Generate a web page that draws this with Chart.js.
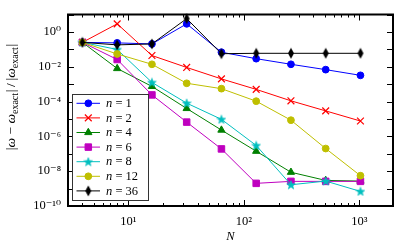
<!DOCTYPE html>
<html>
<head>
<meta charset="utf-8">
<script src="https://cdn.jsdelivr.net/npm/chart.js@4/dist/chart.umd.min.js"></script>
<style>
  html, body { margin: 0; padding: 0; background: #fff; }
  #wrap { width: 399px; height: 246px; position: relative; }
</style>
</head>
<body>
<div id="wrap"><canvas id="c" width="399" height="246"></canvas></div>
<script>
// ---- data ----
const N = [4, 8, 16, 32, 64, 128, 256, 512, 1024];
const err_n1  = [0.25, 0.234, 0.204, 2.9, 0.068, 0.029, 0.0138, 0.0068, 0.0032];
const err_n2  = [0.25, 2.9, 0.044, 0.0091, 0.002, 5.0e-4, 1.1e-4, 2.9e-5, 7.6e-6];
const err_n4  = [0.25, 7.9e-3, 7.4e-4, 4.0e-5, 2.3e-6, 1.4e-7, 8.7e-9, 2.95e-9, 2.7e-9];
const err_n6  = [0.25, 0.026, 2.4e-4, 6.6e-6, 1.9e-7, 2.0e-9, 2.6e-9, 2.6e-9, 2.6e-9];
const err_n8  = [0.25, 0.098, 1.26e-3, 8.1e-5, 9.5e-6, 3.0e-7, 1.66e-9, 2.7e-9, 6.9e-10];
const err_n12 = [0.25, 0.054, 0.0138, 1.12e-3, 5.5e-4, 1.05e-4, 8.5e-6, 2.0e-7, 5.5e-9];
const err_n36 = [0.25, 0.18, 0.204, 5.8, 0.056, 0.059, 0.059, 0.059, 0.059];
const seriesN = ['1', '2', '4', '6', '8', '12', '36'];

const xTickValues = [10, 100, 1000];
const xTickLabels = ['10\u00B9', '10\u00B2', '10\u00B3'];
const yTickValues = [1e-10, 1e-8, 1e-6, 1e-4, 1e-2, 1];
const yTickLabels = ['10\u207B\u00B9\u2070', '10\u207B\u2078', '10\u207B\u2076', '10\u207B\u2074', '10\u207B\u00B2', '10\u2070'];

// ---- marker images ----
function makeStar(color) {
  const c = document.createElement('canvas'); c.width = 10; c.height = 10;
  const g = c.getContext('2d');
  g.beginPath();
  for (let i = 0; i < 10; i++) {
    const r = i % 2 === 0 ? 4.6 : 1.9;
    const a = -Math.PI / 2 + i * Math.PI / 5;
    const px = 5 + r * Math.cos(a), py = 5.4 + r * Math.sin(a);
    if (i === 0) g.moveTo(px, py); else g.lineTo(px, py);
  }
  g.closePath(); g.fillStyle = color; g.fill();
  g.lineWidth = 0.6; g.strokeStyle = color; g.stroke();
  return c;
}
function makeDiamond(color) {
  const c = document.createElement('canvas'); c.width = 8; c.height = 12;
  const g = c.getContext('2d');
  g.beginPath();
  g.moveTo(4, 0.5); g.lineTo(7, 6); g.lineTo(4, 11.5); g.lineTo(1, 6); g.closePath();
  g.fillStyle = color; g.fill();
  return c;
}

const colors = ['#0000ff', '#ff0000', '#008000', '#bf00bf', '#00bfbf', '#bfbf00', '#000000'];
const styles = ['circle', 'crossRot', 'triangle', 'rect', makeStar('#00bfbf'), 'circle', makeDiamond('#000000')];
const radii = [3.4, 4.8, 4.2, 4.6, 5, 3.4, 5];
const seriesVals = [err_n1, err_n2, err_n4, err_n6, err_n8, err_n12, err_n36];

const datasets = seriesVals.map((vals, i) => ({
  label: 'n = ' + seriesN[i],
  data: vals.map((v, j) => ({ x: N[j], y: v })),
  borderColor: colors[i],
  backgroundColor: colors[i],
  borderWidth: 1,
  pointStyle: styles[i],
  pointRadius: radii[i],
  pointBorderWidth: i === 1 ? 1.2 : 1,
  pointBorderColor: colors[i],
  pointBackgroundColor: colors[i],
  tension: 0,
  order: 6 - i,
  clip: false
}));

const SERIF = '"Liberation Serif", "DejaVu Serif", serif';

const frameTicks = {
  id: 'frameTicks',
  afterDatasetsDraw(chart) {
    const { ctx, chartArea: a, scales: { x, y } } = chart;
    ctx.save();
    ctx.strokeStyle = '#000';
    ctx.lineWidth = 1;
    ctx.beginPath();
    for (let k = 0; k <= 3; k++) {
      for (let m = 1; m <= 9; m++) {
        const v = m * Math.pow(10, k);
        if (v < x.min || v > x.max) continue;
        const len = m === 1 ? 6 : 3;
        const px = Math.round(x.getPixelForValue(v)) + 0.5;
        ctx.moveTo(px, a.bottom); ctx.lineTo(px, a.bottom - len);
        ctx.moveTo(px, a.top); ctx.lineTo(px, a.top + len);
      }
    }
    for (let e = -10; e <= 1; e++) {
      const py = Math.round(y.getPixelForValue(Math.pow(10, e))) + 0.5;
      if (py < a.top + 1 || py > a.bottom - 1) continue;
      ctx.moveTo(a.left, py); ctx.lineTo(a.left + 6, py);
      ctx.moveTo(a.right, py); ctx.lineTo(a.right - 6, py);
    }
    ctx.stroke();
    ctx.lineWidth = 2;
    ctx.strokeRect(a.left, a.top, a.right - a.left, a.bottom - a.top);
    ctx.restore();
  }
};

const legendBox = {
  id: 'legendBox',
  afterDraw(chart) {
    const { ctx } = chart;
    ctx.save();
    const bx = 72.5, by = 94.5, bw = 76, bh = 106;
    ctx.fillStyle = '#fff';
    ctx.fillRect(bx, by, bw, bh);
    ctx.strokeStyle = '#333';
    ctx.lineWidth = 1;
    ctx.strokeRect(bx, by, bw, bh);
    chart.data.datasets.forEach((ds, i) => {
      const yy = 103.3 + i * 14.6;
      ctx.strokeStyle = ds.borderColor;
      ctx.lineWidth = 1;
      ctx.beginPath(); ctx.moveTo(76.5, yy); ctx.lineTo(100, yy); ctx.stroke();
      ctx.fillStyle = ds.backgroundColor;
      ctx.strokeStyle = ds.borderColor;
      ctx.lineWidth = ds.pointBorderWidth;
      Chart.helpers.drawPoint(ctx, { pointStyle: ds.pointStyle, radius: ds.pointRadius, rotation: 0, borderWidth: ds.pointBorderWidth }, 88.3, yy);
      ctx.fillStyle = '#000';
      ctx.textBaseline = 'middle';
      ctx.textAlign = 'left';
      ctx.font = 'italic 12.5px ' + SERIF;
      ctx.fillText('n', 106, yy + 0.5);
      const w = ctx.measureText('n').width;
      ctx.font = '12.5px ' + SERIF;
      ctx.fillText(' = ' + seriesN[i], 106 + w, yy + 0.5);
    });
    ctx.restore();
  }
};

const yTitle = {
  id: 'yTitle',
  afterDraw(chart) {
    const { ctx } = chart;
    const reg = '13.5px ' + SERIF, ital = 'italic 13.5px ' + SERIF, sub = '10px ' + SERIF;
    const segs = [
      { t: '|', f: reg }, { t: '\u03C9', f: ital }, { t: ' \u2212 ', f: reg }, { t: '\u03C9', f: ital },
      { t: 'exact', f: sub, dy: 3 }, { t: '|', f: reg }, { t: '\u2009/\u2009', f: reg }, { t: '|', f: reg },
      { t: '\u03C9', f: ital }, { t: 'exact', f: sub, dy: 3 }, { t: '|', f: reg }
    ];
    ctx.save();
    ctx.translate(14.5, 97);
    ctx.rotate(-Math.PI / 2);
    ctx.fillStyle = '#000';
    ctx.textBaseline = 'alphabetic';
    ctx.textAlign = 'left';
    let total = 0;
    segs.forEach(s => { ctx.font = s.f; s.w = ctx.measureText(s.t).width + (s.f === sub ? 0.6 : 0); total += s.w; });
    let cx = -total / 2;
    segs.forEach(s => { ctx.font = s.f; ctx.fillText(s.t, cx, s.dy || 0); cx += s.w; });
    ctx.restore();
  }
};

new Chart(document.getElementById('c'), {
  type: 'line',
  data: { datasets },
  options: {
    responsive: false,
    animation: false,
    events: [],
    layout: { padding: { top: 3, right: 6, left: 0, bottom: 0 } },
    plugins: { legend: { display: false }, tooltip: { enabled: false } },
    scales: {
      x: {
        type: 'logarithmic',
        min: 3, max: 1960,
        afterBuildTicks: s => { s.ticks = xTickValues.map(v => ({ value: v })); },
        afterFit: s => { s.height = 40; },
        grid: { display: false, drawTicks: false },
        border: { display: false },
        ticks: {
          autoSkip: false, maxRotation: 0, padding: 8, color: '#000',
          font: { family: SERIF, size: 12.5 },
          callback: (v) => { const i = xTickValues.indexOf(v); return i >= 0 ? xTickLabels[i] : ''; }
        },
        title: { display: true, text: 'N', color: '#000', font: { family: SERIF, size: 12.5, style: 'italic' }, padding: { top: 0, bottom: 2 } }
      },
      y: {
        type: 'logarithmic',
        min: 1e-10, max: 10,
        afterBuildTicks: s => { s.ticks = yTickValues.map(v => ({ value: v })); },
        afterFit: s => { s.width = 68; },
        grid: { display: false, drawTicks: false },
        border: { display: false },
        ticks: {
          autoSkip: false, padding: 7, color: '#000',
          font: { family: SERIF, size: 12.5 },
          callback: (v) => { const i = yTickValues.findIndex(t => Math.abs(Math.log10(t) - Math.log10(v)) < 1e-6); return i >= 0 ? yTickLabels[i] : ''; }
        }
      }
    }
  },
  plugins: [frameTicks, legendBox, yTitle]
});
</script>
</body>
</html>
